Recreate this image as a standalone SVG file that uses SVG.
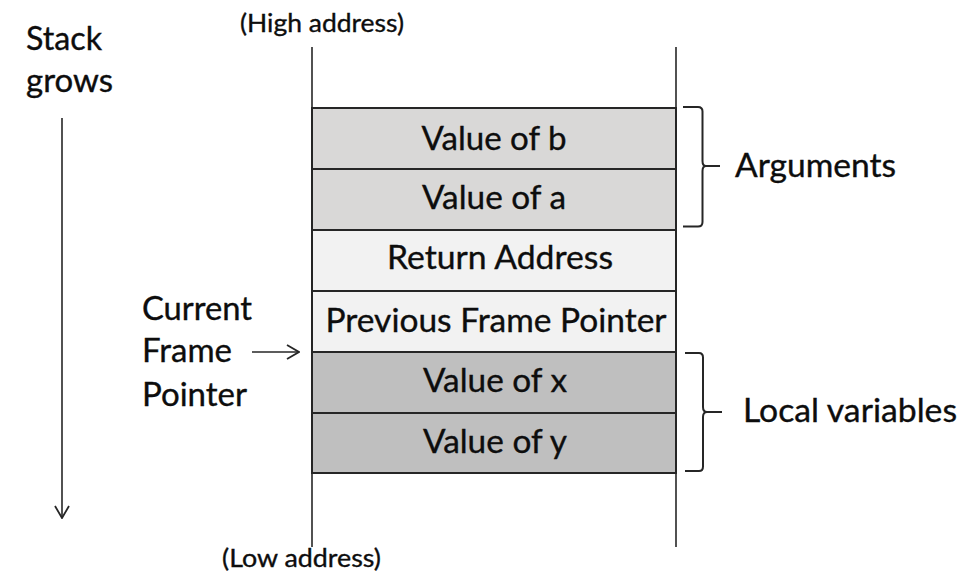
<svg xmlns="http://www.w3.org/2000/svg" width="976" height="577" viewBox="0 0 976 577">
  <defs>
    <style>
      .t { font-family: Lato, "Open Sans", "Liberation Sans", sans-serif; fill: #0d0d0d; stroke: #0d0d0d; stroke-width: 0.35; }
      .big { font-size: 32px; }
      .small { font-size: 25px; }
      .mid { text-anchor: middle; }
      .cell { stroke: #262626; stroke-width: 2; }
      .arg { fill: #d9d8d7; }
      .ctl { fill: #f2f2f2; }
      .loc { fill: #bfbfbf; }
      .wire { fill: none; stroke: #262626; stroke-width: 1.6; }
      .brace { fill: none; stroke: #262626; stroke-width: 2; stroke-linejoin: round; }
    </style>
    <marker id="openHead" viewBox="0 0 14 16" refX="13" refY="8" markerWidth="14" markerHeight="16" markerUnits="userSpaceOnUse" orient="auto">
      <path d="M1 1 L13 8 L1 15" fill="none" stroke="#262626" stroke-width="1.8"/>
    </marker>
  </defs>

  <rect width="976" height="577" fill="#ffffff"/>

  <!-- stack frame cells, high address at top -->
  <g id="cell-b"><rect class="cell arg" x="312" y="108" width="364" height="61"/><text class="t big mid" x="494" y="150" textLength="145" lengthAdjust="spacingAndGlyphs">Value of b</text></g>
  <g id="cell-a"><rect class="cell arg" x="312" y="169" width="364" height="61"/><text class="t big mid" x="494" y="209" textLength="144" lengthAdjust="spacingAndGlyphs">Value of a</text></g>
  <g id="cell-ret"><rect class="cell ctl" x="312" y="230" width="364" height="61"/><text class="t big mid" x="500" y="269" textLength="226" lengthAdjust="spacingAndGlyphs">Return Address</text></g>
  <g id="cell-prev"><rect class="cell ctl" x="312" y="291" width="364" height="61"/><text class="t big mid" x="496" y="332" textLength="341" lengthAdjust="spacingAndGlyphs">Previous Frame Pointer</text></g>
  <g id="cell-x"><rect class="cell loc" x="312" y="352" width="364" height="61"/><text class="t big mid" x="495" y="392" textLength="144" lengthAdjust="spacingAndGlyphs">Value of x</text></g>
  <g id="cell-y"><rect class="cell loc" x="312" y="413" width="364" height="60"/><text class="t big mid" x="495" y="453" textLength="144" lengthAdjust="spacingAndGlyphs">Value of y</text></g>

  <!-- stack walls and address labels -->
  <g id="walls">
    <line class="wire" x1="312" y1="47" x2="312" y2="547"/>
    <line class="wire" x1="676" y1="47" x2="676" y2="547"/>
  </g>
  <g id="high-label"><text class="t small" x="240" y="32" textLength="164" lengthAdjust="spacingAndGlyphs">(High address)</text></g>
  <g id="low-label"><text class="t small" x="222" y="567" textLength="159" lengthAdjust="spacingAndGlyphs">(Low address)</text></g>

  <!-- growth direction -->
  <g id="grows-label">
    <text class="t big" x="26" y="50" textLength="76" lengthAdjust="spacingAndGlyphs">Stack</text>
    <text class="t big" x="26" y="92" textLength="87" lengthAdjust="spacingAndGlyphs">grows</text>
  </g>

  <!-- frame pointer label -->
  <g id="fp-label">
    <text class="t big" x="142" y="320" textLength="110" lengthAdjust="spacingAndGlyphs">Current</text>
    <text class="t big" x="142" y="362" textLength="90" lengthAdjust="spacingAndGlyphs">Frame</text>
    <text class="t big" x="142" y="406" textLength="105" lengthAdjust="spacingAndGlyphs">Pointer</text>
  </g>

  <!-- group labels -->
  <g id="args-label"><text class="t big" x="735" y="177" textLength="161" lengthAdjust="spacingAndGlyphs">Arguments</text></g>
  <g id="locals-label"><text class="t big" x="743" y="422" textLength="214" lengthAdjust="spacingAndGlyphs">Local variables</text></g>

  <!-- connectors: arrows and braces -->
  <g id="connectors">
    <line class="wire" x1="62" y1="118" x2="62" y2="518" marker-end="url(#openHead)"/>
    <line class="wire" x1="252" y1="352" x2="299" y2="352" marker-end="url(#openHead)"/>
    <path class="brace" d="M683 107 H698 Q702.5 107 702.5 111.5 V161 Q702.5 166 706 166 H720 M706 166 Q702.5 166 702.5 171 V222 Q702.5 226.5 698 226.5 H683"/>
    <path class="brace" d="M685 353 H699 Q703 353 703 357.5 V407 Q703 412 707 412 H722 M707 412 Q703 412 703 417 V466.5 Q703 471 699 471 H685"/>
  </g>
</svg>
